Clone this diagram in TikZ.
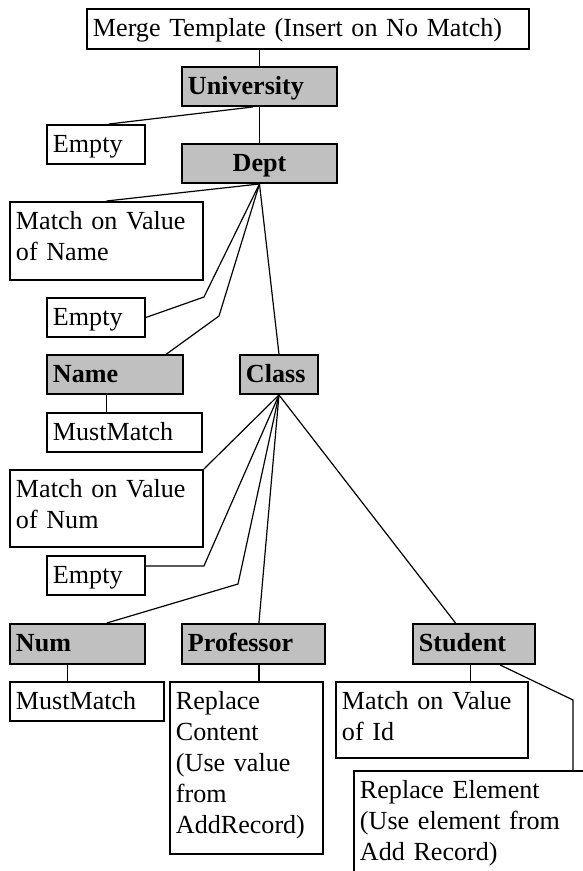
\documentclass[tikz,border=0pt]{standalone}
\usepackage{fontspec}
\setmainfont{Liberation Serif}
\usetikzlibrary{positioning}

\definecolor{elemgray}{RGB}{192,192,192}
\newcommand\diagfont{\fontsize{12}{14.3}\selectfont}

\tikzset{
  rulebox/.style 2 args={draw, line width=0.9pt, anchor=north west,
    inner xsep=2.76pt, inner ysep=0pt, align=left, font=\diagfont,
    text width={(#1-12)*0.46pt},
    text height=12.6pt, text depth={#2*0.46pt-12.6pt}},
  elem/.style 2 args={rulebox={#1}{#2}, fill=elemgray, font=\diagfont\bfseries}
}

\begin{document}
\begin{tikzpicture}[x=0.46pt, y=-0.46pt, line width=0.55pt]
  \useasboundingbox (0,0) rectangle (583,871);
  \clip (0,0) rectangle (583,871);

  \node[rulebox={442}{40}] (merge) at (86,8) {Merge Template (Insert on No Match)};
  \node[elem={155}{39}] (university) at (181,66) {University};
  \node[rulebox={98}{39}] (empty1) at (46,124) {Empty};
  \node[elem={155}{39}, align=center] (dept) at (181,143) {Dept};
  \node[rulebox={193}{78}] (matchname) at (9,201) {Match on Value\\of Name};
  \node[rulebox={98}{39}] (empty2) at (46,297) {Empty};
  \node[elem={136}{39}] (name) at (46,354) {Name};
  \node[elem={78}{39}] (class) at (239,354) {Class};
  \node[rulebox={155}{39}] (mustname) at (46,412) {MustMatch};
  \node[rulebox={193}{77}] (matchnum) at (9,469) {Match on Value\\of Num};
  \node[rulebox={98}{39}] (empty3) at (46,555) {Empty};
  \node[elem={135}{40}] (num) at (9,623) {Num};
  \node[elem={143}{40}] (professor) at (181,623) {Professor};
  \node[elem={122}{40}] (student) at (412,623) {Student};
  \node[rulebox={154}{39}] (mustnum) at (9,681) {MustMatch};
  \node[rulebox={153}{172}] (replcontent) at (169,681) {Replace\\Content\\(Use value\\from\\AddRecord)};
  \node[rulebox={192}{76}] (matchid) at (335,681) {Match on Value\\of Id};
  \node[rulebox={260}{116}] (replelem) at (353,770) {Replace Element\\(Use element from\\Add Record)};

  \coordinate (namebend) at (219,316);
  \coordinate (numbend) at (238,584);
  \coordinate (elembend) at (573,700);
  \coordinate (namefoot) at ([xshift=-4pt]name.south);
  \coordinate (numfoot) at ([xshift=-4.7pt]num.south);
  \coordinate (proffoot) at ([xshift=2.5pt]professor.south);
  \coordinate (studfoot) at ([xshift=-1.7pt]student.south);
  \coordinate (e3link) at ([yshift=4.4pt]empty3.east);

  \draw (university.north) -- (university.north |- merge.south);
  \draw (university.south) -- (dept.north);
  \draw ([xshift=6pt]empty1.north) -- ([xshift=-3pt]university.south);

  \draw (matchname.north) -- (dept.south);
  \draw (empty2.east) -- (matchname.east |- empty2.north) -- (dept.south);
  \draw ([xshift=-8pt]name.north east) -- (namebend) -- (dept.south);
  \draw (class.north) -- (dept.south);
  \draw (namefoot) -- (namefoot |- mustname.north);

  \draw (matchnum.north east) -- (class.south);
  \draw (e3link) -- (e3link -| matchnum.east) -- (class.south);
  \draw ([xshift=13.5pt]num.north) -- (numbend) -- (class.south);
  \draw ([xshift=2.5pt]professor.north) -- (class.south);
  \draw ([xshift=-8.5pt]student.north) -- (class.south);

  \draw (numfoot) -- (numfoot |- mustnum.north);
  \draw (proffoot) -- (proffoot |- replcontent.north);
  \draw (studfoot) -- (studfoot |- matchid.north);
  \draw ([xshift=-16.5pt]student.south east) -- (elembend) -- (elembend |- replelem.north);
\end{tikzpicture}
\end{document}
